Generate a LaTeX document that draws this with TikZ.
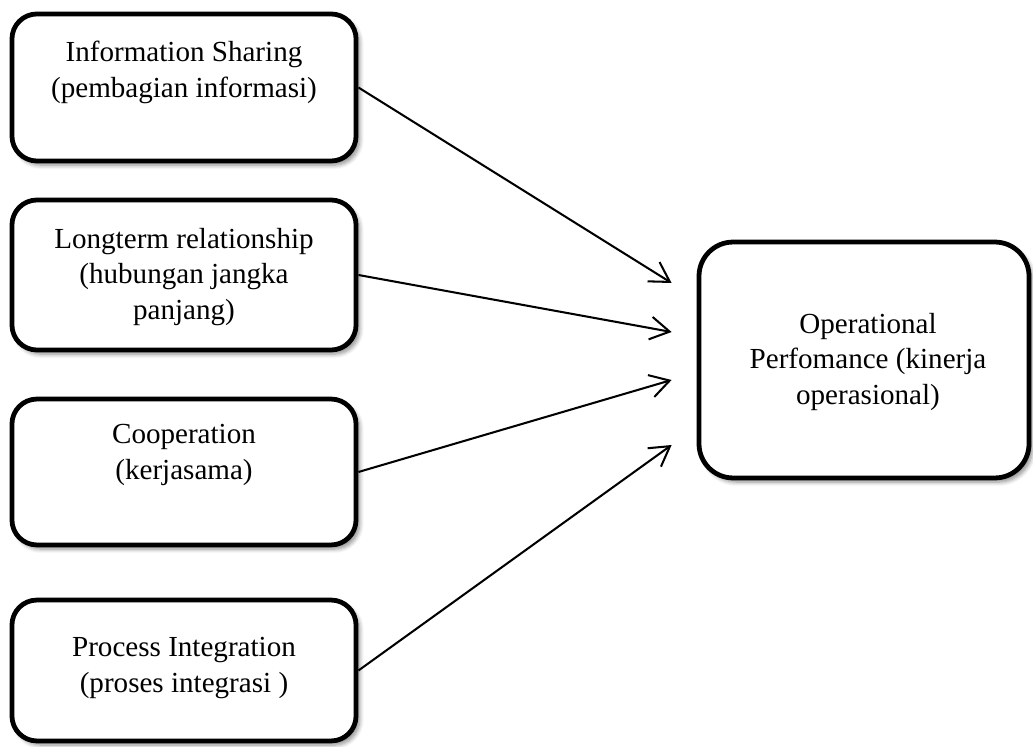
\documentclass[tikz,border=0pt]{standalone}
\usepackage{fontspec}
\setmainfont{Liberation Serif}
\usetikzlibrary{positioning, calc, arrows.meta, shadows.blur}
\tikzset{
    factorbox/.style={rectangle, rounded corners=11pt, draw=black, line width=2.1pt, fill=white, minimum width=151.4pt,
        blur shadow={shadow xshift=1.6pt, shadow yshift=-1.8pt, shadow blur steps=6, shadow opacity=45}},
    resultbox/.style={factorbox, rounded corners=15pt, minimum width=145.2pt, minimum height=103.8pt},
    boxtext/.style={align=center, font=\fontsize{12.8}{15.8}\selectfont, inner sep=0pt},
    arrow/.style={-{Straight Barb[length=8.5pt, width=10pt]}, line width=0.9pt, color=black},
}

\begin{document}
\begin{tikzpicture}[x=0.44pt, y=-0.44pt]
    \useasboundingbox (0,0) rectangle (1033,747);

    % Variabel kiri
    \node[factorbox, minimum height=64.7pt] (share) at (184,87.5) {};
    \node[factorbox, minimum height=66pt] (term) at (184,275) {};
    \node[factorbox, minimum height=64.2pt] (coop) at (184,472) {};
    \node[factorbox, minimum height=62pt] (proc) at (184,670.5) {};

    % Variabel kanan
    \node[resultbox] (perf) at (864,360) {};

    % Teks
    \node[boxtext] (shareT) at (184,72) {Information Sharing\\(pembagian informasi)};
    \node[boxtext] (termT) at (184,277) {Longterm relationship\\(hubungan jangka\\panjang)};
    \node[boxtext] (coopT) at (184,455) {Cooperation\\(kerjasama)};
    \node[boxtext] (procT) at (184,668) {Process Integration\\(proses integrasi )};
    \node[boxtext] (perfT) at (868,362) {Operational\\Perfomance (kinerja\\operasional)};

    % Ujung panah
    \coordinate (e1) at ($(perf.west)+(-25,-77)$);
    \coordinate (e2) at ($(perf.west)+(-25,-28)$);
    \coordinate (e3) at ($(perf.west)+(-25,20)$);
    \coordinate (e4) at ($(perf.west)+(-25,85)$);

    \draw[arrow] (share.east) -- (e1);
    \draw[arrow] (term.east) -- (e2);
    \draw[arrow] (coop.east) -- (e3);
    \draw[arrow] (proc.east) -- (e4);
\end{tikzpicture}
\end{document}
